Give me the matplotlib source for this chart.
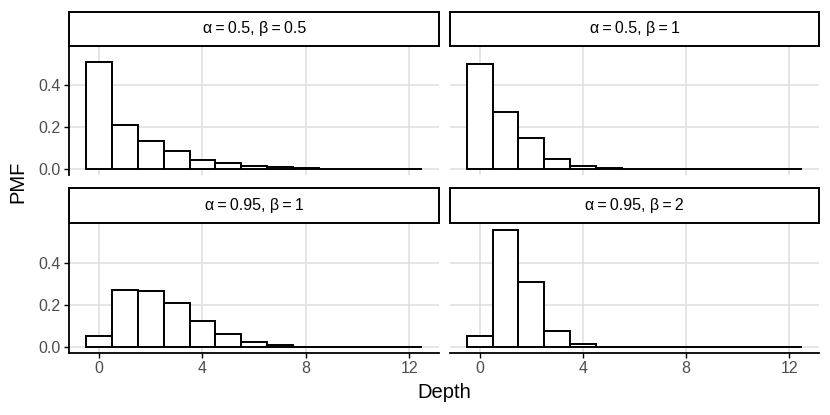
import numpy as np
import matplotlib
matplotlib.use("Agg")
import matplotlib.pyplot as plt

plt.rcParams['font.family'] = ['Liberation Sans', 'DejaVu Sans']

depth = np.arange(0, 13)

# PMF values, one list per panel
pmf_a05_b05 = [0.509, 0.210, 0.136, 0.088, 0.044, 0.028, 0.017, 0.009, 0.005, 0.003, 0.002, 0.001, 0.001]
pmf_a05_b1 = [0.504, 0.275, 0.150, 0.050, 0.016, 0.004, 0.001, 0.0, 0.0, 0.0, 0.0, 0.0, 0.0]
pmf_a095_b1 = [0.051, 0.270, 0.268, 0.210, 0.122, 0.062, 0.022, 0.0095, 0.003, 0.001, 0.0005, 0.0, 0.0]
pmf_a095_b2 = [0.053, 0.555, 0.306, 0.078, 0.017, 0.002, 0.0005, 0.0, 0.0, 0.0, 0.0, 0.0, 0.0]

titles = ["α\u2009=\u20090.5, β\u2009=\u20090.5", "α\u2009=\u20090.5, β\u2009=\u20091",
          "α\u2009=\u20090.95, β\u2009=\u20091", "α\u2009=\u20090.95, β\u2009=\u20092"]
series = [pmf_a05_b05, pmf_a05_b1, pmf_a095_b1, pmf_a095_b2]

x_ticks = [0, 4, 8, 12]
y_ticks = [0.0, 0.2, 0.4]

W, H = 830, 415
fig = plt.figure(figsize=(W / 100, H / 100), dpi=100)


def box(x0, y0, x1, y1):
    # pixel box (top-left origin) -> figure fraction rect
    return [x0 / W, 1 - y1 / H, (x1 - x0) / W, (y1 - y0) / H]


cols = [(69.3, 439), (450, 819)]
rows = [((12, 46), (47, 175)), ((188, 223), (224, 353))]

ymax = max(max(s) for s in series)
ylim = (-0.05 * ymax, 1.05 * ymax)
xlim = (-0.5 - 0.65, 12.5 + 0.65)

grid_col = "#DEDEDE"
tick_col = "#4D4D4D"

for i, (title, vals) in enumerate(zip(titles, series)):
    r, c = divmod(i, 2)
    (sy0, sy1), (py0, py1) = rows[r]
    x0, x1 = cols[c]

    ax = fig.add_axes(box(x0, py0, x1, py1))
    ax.bar(depth, vals, width=1.0, color="white", edgecolor="black", linewidth=1.4, zorder=3)
    ax.set_xlim(*xlim)
    ax.set_ylim(*ylim)
    ax.set_xticks(x_ticks)
    ax.set_yticks(y_ticks)
    ax.set_yticklabels([f"{v:.1f}" for v in y_ticks])
    ax.grid(True, color=grid_col, linewidth=1.1, zorder=0)
    ax.set_axisbelow(True)
    for s in ["top", "right"]:
        ax.spines[s].set_visible(False)
    ax.spines["left"].set_visible(c == 0)
    ax.spines["bottom"].set_visible(r == 1)
    for s in ["left", "bottom"]:
        ax.spines[s].set_linewidth(1.3)
    ax.tick_params(axis="both", colors="black", labelcolor=tick_col, labelsize=11.5,
                   length=3.6, width=1.0, pad=2.5)
    ax.tick_params(axis="y", left=(c == 0), labelleft=(c == 0))
    ax.tick_params(axis="x", bottom=(r == 1), labelbottom=(r == 1))

    # facet strip
    sax = fig.add_axes(box(x0, sy0, x1, sy1))
    sax.set_xticks([])
    sax.set_yticks([])
    for s in sax.spines.values():
        s.set_linewidth(1.4)
        s.set_color("black")
    sax.text(0.5, 0.5, title, ha="center", va="center", fontsize=11.5, transform=sax.transAxes)

fig.text(18 / W, 1 - 182 / H, "PMF", rotation=90, ha="center", va="center", fontsize=14.5)
fig.text(444 / W, 1 - 392 / H, "Depth", ha="center", va="center", fontsize=14.5)

fig.savefig("out.png", dpi=100)
